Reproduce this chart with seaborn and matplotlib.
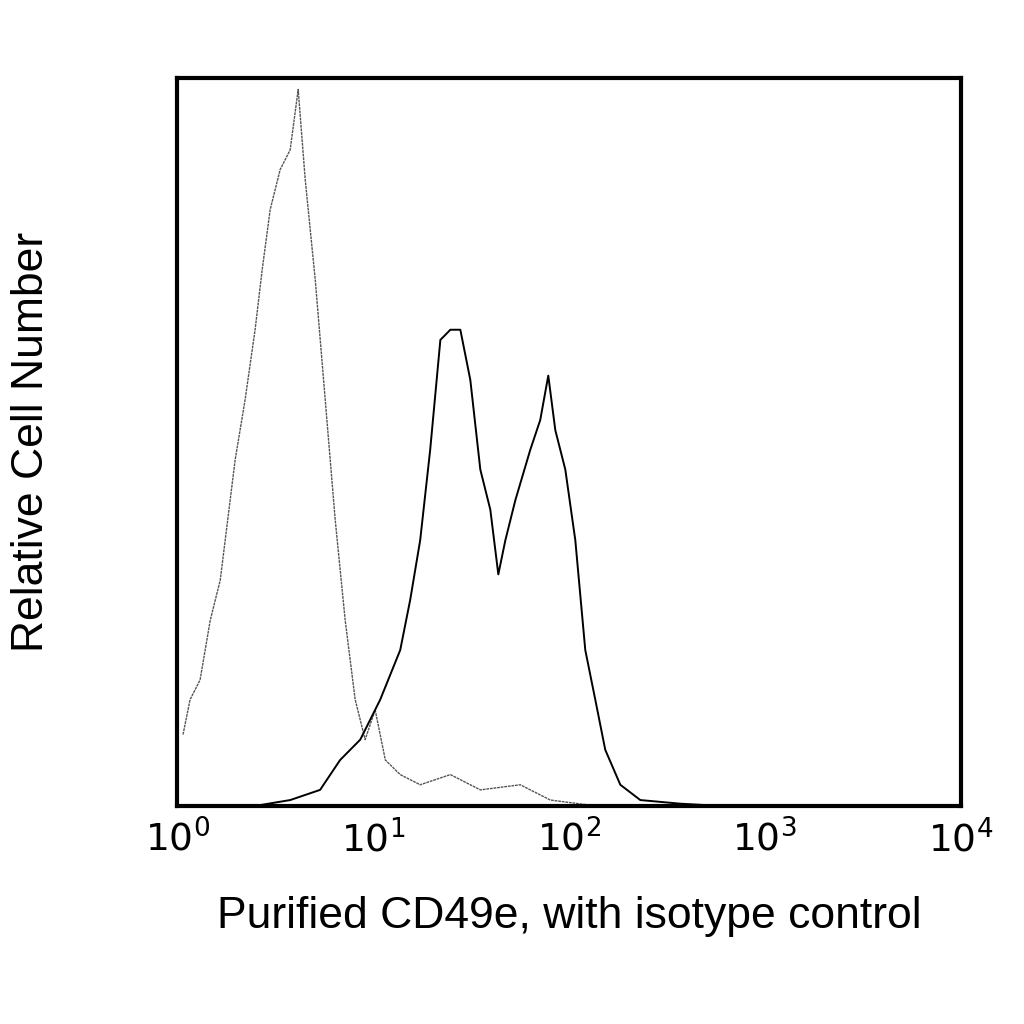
import numpy as np
import pandas as pd
import matplotlib
matplotlib.use("Agg")
import matplotlib.pyplot as plt
import seaborn as sns

iso_log = [0.03,0.066,0.117,0.169,0.22,0.296,0.347,0.398,0.434,0.475,0.526,0.577,0.618,0.654,0.705,0.756,0.807,0.858,0.909,0.96,1.011,1.063,1.139,1.241,1.395,1.548,1.752,1.906,2.11]
iso_cnt = [9.8,14.6,17.3,25.5,31,47.5,55.8,65.4,73.6,81.9,87.4,90.1,98.4,86,72.3,55.8,39.3,25.5,14.6,9.1,13.2,6.3,4.3,2.9,4.3,2.2,2.9,0.8,0.1]
cd_log = [0.399,0.577,0.73,0.832,0.935,1.037,1.139,1.19,1.241,1.292,1.344,1.395,1.446,1.497,1.548,1.599,1.64,1.676,1.727,1.803,1.854,1.895,1.931,1.982,2.033,2.084,2.135,2.186,2.263,2.365,2.57,2.774]
cd_cnt = [0,0.8,2.2,6.3,9.1,14.6,21.4,28.3,36.5,48.9,64,65.4,65.4,58.5,46.2,40.7,31.8,36.5,42,48.9,53,59.1,51.6,46.2,36.5,21.4,14.6,7.7,2.9,0.8,0.3,0]

sns.set_style("white")
plt.rcParams['font.family'] = ['Liberation Sans', 'DejaVu Sans']
fig = plt.figure(figsize=(10.24, 10.24), dpi=100)
ax = fig.add_axes([0.173, 0.213, 0.765, 0.711])

iso = pd.DataFrame({"x": 10 ** np.array(iso_log), "y": iso_cnt})
cd = pd.DataFrame({"x": 10 ** np.array(cd_log), "y": cd_cnt})
sns.lineplot(data=iso, x="x", y="y", ax=ax, color="#555555", lw=1.0, linestyle=(0, (2, 0.6)))
sns.lineplot(data=cd, x="x", y="y", ax=ax, color="black", lw=1.4)

ax.set_xscale("log")
ax.set_xlim(1, 1e4)
ax.set_ylim(0, 100)
ax.set_xticks([1, 10, 100, 1000, 10000])
ax.set_xticklabels([r"$10^0$", r"$10^1$", r"$10^2$", r"$10^3$", r"$10^4$"])
ax.minorticks_off()
ax.set_yticks([])
ax.tick_params(axis='x', labelsize=27, length=0, pad=10, labelcolor="black")
for s in ax.spines.values():
    s.set_linewidth(3)
    s.set_color("black")
ax.set_xlabel("Purified CD49e, with isotype control", fontsize=32, labelpad=26, color="black")
ax.set_ylabel("Relative Cell Number", fontsize=32, labelpad=90, color="black")
fig.savefig("out.png", dpi=100)
